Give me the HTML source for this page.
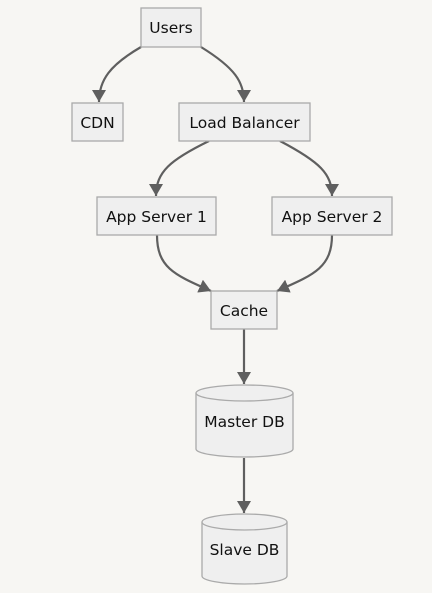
<!DOCTYPE html>
<html><head><meta charset="utf-8"><style>
html,body{margin:0;padding:0;background:#f7f6f3;}
svg{display:block;}
text{font-family:"DejaVu Sans","Liberation Sans",sans-serif;font-size:15.5px;fill:#111;}
</style></head><body>
<svg width="432" height="593" viewBox="0 0 432 593" xmlns="http://www.w3.org/2000/svg">
<defs>
<marker id="a" markerWidth="14" markerHeight="14" refX="12" refY="7" orient="auto" markerUnits="userSpaceOnUse" viewBox="0 0 14 14">
<path d="M0,0 L12,7 L0,14 z" fill="#5f5f5f"/>
</marker>
</defs>
<g fill="none" stroke="#5f5f5f" stroke-width="2.2">
<path d="M141,47 C110,65 99,80 99,102" marker-end="url(#a)"/>
<path d="M201,47 C235,68 244,82 244,102" marker-end="url(#a)"/>
<path d="M209,141 C170,160 156,172 156,196" marker-end="url(#a)"/>
<path d="M280,141 C320,162 332,174 332,196" marker-end="url(#a)"/>
<path d="M157,235 C157,268 175,275 211,291" marker-end="url(#a)"/>
<path d="M332,235 C332,268 313,275 277,291" marker-end="url(#a)"/>
<path d="M244,329 L244,384" marker-end="url(#a)"/>
<path d="M244,458 L244,513" marker-end="url(#a)"/>
</g>
<g fill="#efefef" stroke="#aaa" stroke-width="1.3">
<rect x="141" y="8" width="60" height="39"/>
<rect x="72" y="103" width="51" height="38"/>
<rect x="179" y="103" width="131" height="38"/>
<rect x="97" y="197" width="119" height="38"/>
<rect x="272" y="197" width="120" height="38"/>
<rect x="211" y="291" width="66" height="38"/>
<path d="M196,393 A48.5,8 0 0 1 293,393 L293,449 A48.5,8 0 0 1 196,449 Z"/>
<path d="M196,393 A48.5,8 0 0 0 293,393"/>
<path d="M202,522 A42.5,8 0 0 1 287,522 L287,576 A42.5,8 0 0 1 202,576 Z"/>
<path d="M202,522 A42.5,8 0 0 0 287,522"/>
</g>
<g text-anchor="middle">
<text x="171" y="33">Users</text>
<text x="97.5" y="128">CDN</text>
<text x="244.5" y="128">Load Balancer</text>
<text x="156.5" y="222">App Server 1</text>
<text x="332" y="222">App Server 2</text>
<text x="244" y="316">Cache</text>
<text x="244.5" y="427">Master DB</text>
<text x="244.5" y="555">Slave DB</text>
</g>
</svg>
</body></html>
